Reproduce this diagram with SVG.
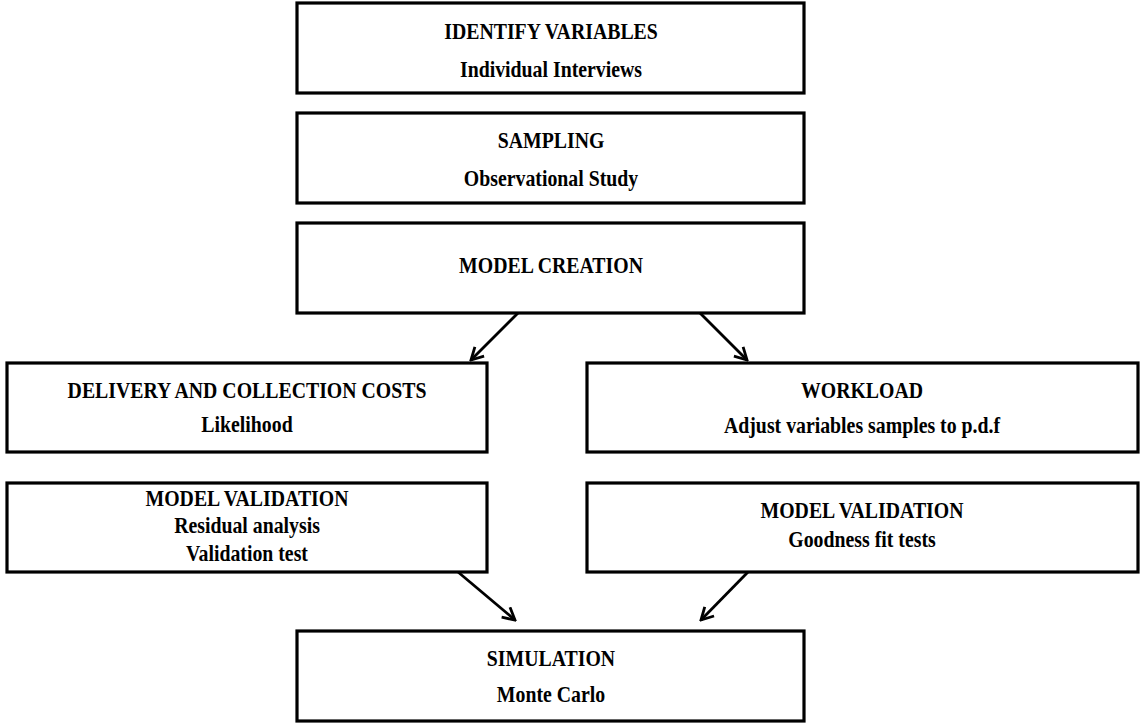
<svg xmlns="http://www.w3.org/2000/svg" width="1141" height="724" viewBox="0 0 1141 724">
<defs>
<style>
.box{fill:#fff;stroke:#000;stroke-width:3.2}
.t{font-family:"Liberation Serif","Times New Roman",serif;font-weight:bold;font-size:22.5px;text-anchor:middle;fill:#000}
.c{stroke:#000;stroke-width:2.8;fill:none}
</style>
<marker id="ah" viewBox="0 0 16 16" refX="14" refY="8" markerWidth="16" markerHeight="16" markerUnits="userSpaceOnUse" orient="auto">
<path d="M2,1.5 L14,8 L2,14.5" fill="none" stroke="#000" stroke-width="2.8"/>
</marker>
</defs>
<rect width="1141" height="724" fill="#fff"/>
<g id="n1"><rect class="box" x="297" y="3" width="507" height="90"/><text class="t" transform="translate(551,39) scale(0.88,1)">IDENTIFY VARIABLES</text><text class="t" transform="translate(551,77) scale(0.88,1)">Individual Interviews</text></g>
<g id="n2"><rect class="box" x="297" y="113" width="507" height="90"/><text class="t" transform="translate(551,148) scale(0.88,1)">SAMPLING</text><text class="t" transform="translate(551,186) scale(0.88,1)">Observational Study</text></g>
<g id="n3"><rect class="box" x="297" y="223" width="507" height="90"/><text class="t" transform="translate(551,273) scale(0.88,1)">MODEL CREATION</text></g>
<g id="n4"><rect class="box" x="7" y="363" width="480" height="89"/><text class="t" transform="translate(247,398) scale(0.88,1)">DELIVERY AND COLLECTION COSTS</text><text class="t" transform="translate(247,432) scale(0.88,1)">Likelihood</text></g>
<g id="n5"><rect class="box" x="587" y="363" width="551" height="89"/><text class="t" transform="translate(862,398) scale(0.88,1)">WORKLOAD</text><text class="t" transform="translate(862,433) scale(0.88,1)">Adjust variables samples to p.d.f</text></g>
<g id="n6"><rect class="box" x="7" y="483" width="480" height="89"/><text class="t" transform="translate(247,506) scale(0.88,1)">MODEL VALIDATION</text><text class="t" transform="translate(247,533) scale(0.88,1)">Residual analysis</text><text class="t" transform="translate(247,561) scale(0.88,1)">Validation test</text></g>
<g id="n7"><rect class="box" x="587" y="483" width="551" height="89"/><text class="t" transform="translate(862,518) scale(0.88,1)">MODEL VALIDATION</text><text class="t" transform="translate(862,547) scale(0.88,1)">Goodness fit tests</text></g>
<g id="n8"><rect class="box" x="297" y="631" width="507" height="90"/><text class="t" transform="translate(551,666) scale(0.88,1)">SIMULATION</text><text class="t" transform="translate(551,702) scale(0.88,1)">Monte Carlo</text></g>
<g id="connectors">
<line class="c" x1="518" y1="313" x2="471" y2="360" marker-end="url(#ah)"/>
<line class="c" x1="700" y1="313" x2="747" y2="360" marker-end="url(#ah)"/>
<line class="c" x1="458" y1="572" x2="515" y2="620" marker-end="url(#ah)"/>
<line class="c" x1="748" y1="572" x2="701" y2="620" marker-end="url(#ah)"/>
</g>
</svg>
